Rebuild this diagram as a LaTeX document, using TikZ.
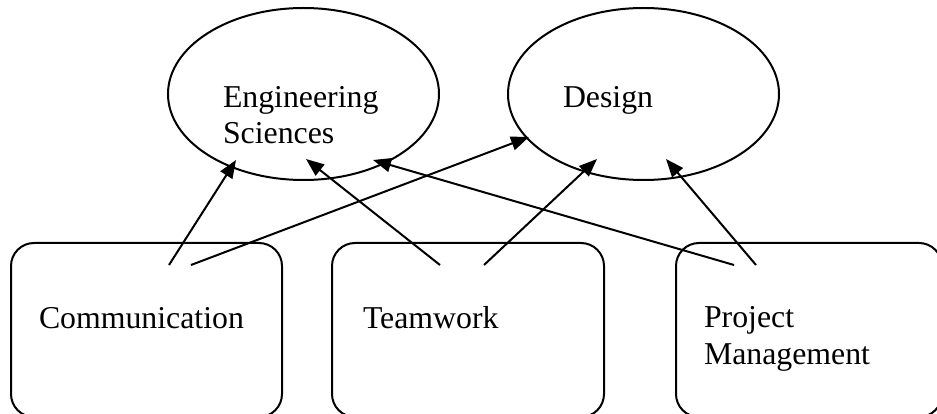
\documentclass[tikz,border=0pt]{standalone}
\usepackage{fontspec}
\setmainfont{Liberation Serif}
\usetikzlibrary{shapes.geometric,arrows.meta}
\begin{document}
\begin{tikzpicture}[x=1pt,y=-1pt,
  every node/.style={inner sep=0pt, outer sep=0pt},
  oval/.style={ellipse, draw, line width=2pt, minimum width=271pt, minimum height=172pt},
  skillbox/.style={rectangle, draw, line width=2pt, rounded corners=23pt, anchor=north west},
  lbl/.style={anchor=base west, align=left, font=\fontsize{31.8}{36.5}\selectfont},
  link/.style={line width=2pt, -{Triangle[length=18pt,width=14pt]}}
]
\useasboundingbox (0,0) rectangle (937,414);
\clip (0,0) rectangle (937,414);

% outcome ellipses
\node[oval] (eng) at (303.5,94) {};
\node[oval] (des) at (643.5,94) {};

% skill boxes (bottom and right edge run past the frame)
\node[skillbox, minimum width=271pt, minimum height=174pt] (com) at (11,243) {};
\node[skillbox, minimum width=272pt, minimum height=174pt] (team) at (332,243) {};
\node[skillbox, minimum width=266pt, minimum height=174pt] (pm) at (676,243) {};

% labels (base anchor of a two-line label sits on its last line)
\node[lbl] (engtxt) at (223,144) {Engineering\\Sciences};
\node[lbl] (destxt) at (563,108) {Design};
\node[lbl] (comtxt) at (39,328) {Communication};
\node[lbl] (teamtxt) at (363,328) {Teamwork};
\node[lbl] (pmtxt) at (704,364) {Project\\Management};

% arrow start points inside the boxes
\coordinate (com-a) at (169,265);
\coordinate (com-b) at (191,265);
\coordinate (team-a) at (440,265);
\coordinate (team-b) at (484,265);
\coordinate (pm-a) at (734,265);
\coordinate (pm-b) at (756,265);

% arrow end points on the ellipses
\coordinate (eng-a) at (236,160);
\coordinate (eng-b) at (306,159);
\coordinate (eng-c) at (373,160);
\coordinate (des-a) at (529,137);
\coordinate (des-b) at (597,159);
\coordinate (des-c) at (666,159);

\draw[link] (com-a) -- (eng-a);
\draw[link] (com-b) -- (des-a);
\draw[link] (team-a) -- (eng-b);
\draw[link] (team-b) -- (des-b);
\draw[link] (pm-a) -- (eng-c);
\draw[link] (pm-b) -- (des-c);
\end{tikzpicture}
\end{document}
